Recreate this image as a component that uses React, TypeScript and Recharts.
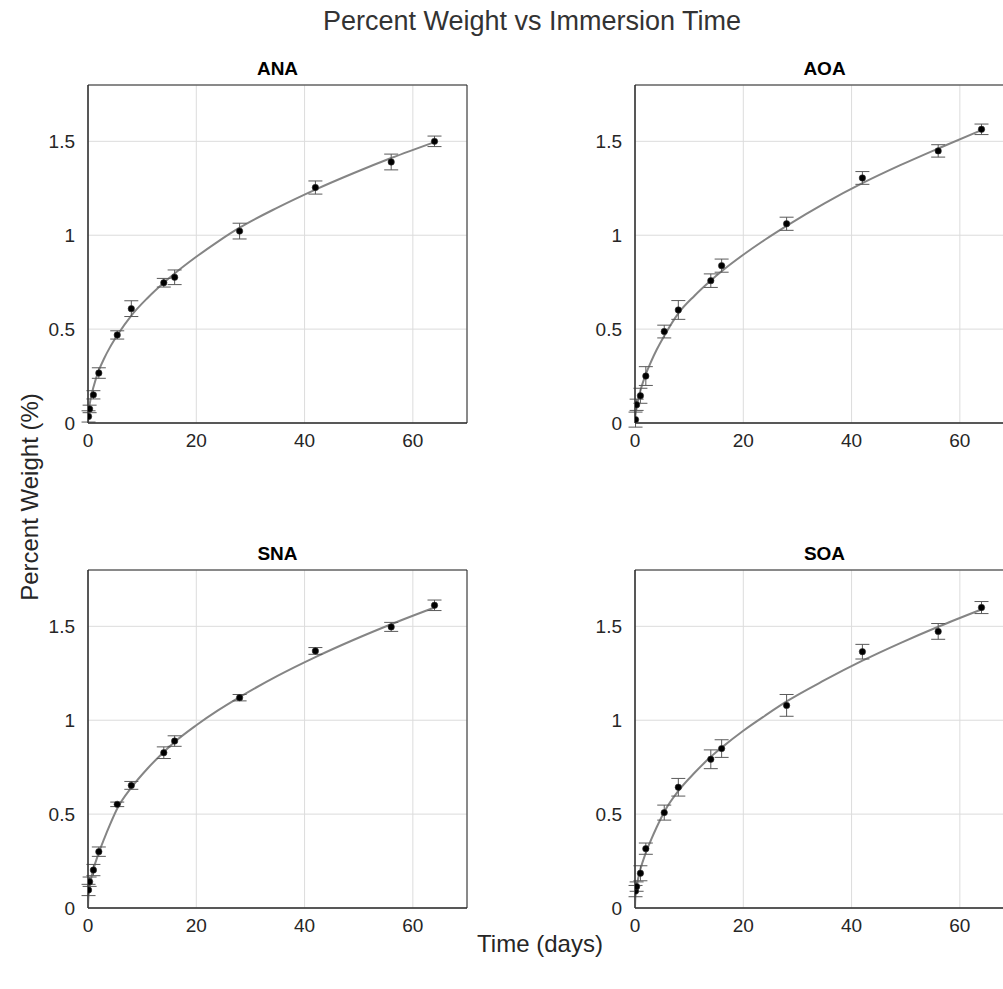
import {
  CartesianGrid,
  ComposedChart,
  ErrorBar,
  Line,
  ReferenceArea,
  Scatter,
  XAxis,
  YAxis,
} from "recharts";

// sampling times (days)
const TIMES = [0.1, 0.3, 1, 2, 5.4, 8, 14, 16, 28, 42, 56, 64];

const ANA_Y = [0.035, 0.075, 0.15, 0.266, 0.469, 0.609, 0.747, 0.776, 1.022, 1.254, 1.39, 1.5];
const ANA_ERR = [0.03, 0.02, 0.022, 0.028, 0.022, 0.042, 0.023, 0.039, 0.042, 0.035, 0.042, 0.028];
const AOA_Y = [0.018, 0.097, 0.145, 0.25, 0.487, 0.602, 0.758, 0.838, 1.061, 1.305, 1.449, 1.564];
const AOA_ERR = [0.04, 0.03, 0.04, 0.05, 0.034, 0.05, 0.036, 0.035, 0.035, 0.034, 0.033, 0.028];
const SNA_Y = [0.096, 0.14, 0.202, 0.3, 0.552, 0.653, 0.827, 0.889, 1.12, 1.369, 1.497, 1.612];
const SNA_ERR = [0.03, 0.025, 0.03, 0.025, 0.012, 0.021, 0.031, 0.028, 0.017, 0.018, 0.024, 0.028];
const SOA_Y = [0.09, 0.114, 0.185, 0.316, 0.508, 0.643, 0.792, 0.849, 1.079, 1.365, 1.473, 1.6];
const SOA_ERR = [0.03, 0.025, 0.04, 0.03, 0.04, 0.047, 0.05, 0.047, 0.058, 0.039, 0.042, 0.032];

// fitted curve
const FIT_T = [0, 0.05, 0.2, 0.5, 1, 2, 3, 4, 5.5, 8, 11, 14, 16, 20, 24, 28, 35, 42, 49, 56, 64];
const ANA_FIT = [0, 0.036, 0.078, 0.13, 0.19, 0.28, 0.345, 0.4, 0.471, 0.572, 0.666, 0.747, 0.796, 0.885, 0.966, 1.04, 1.147, 1.243, 1.33, 1.411, 1.496];
const AOA_FIT = [0, 0.03, 0.066, 0.113, 0.172, 0.26, 0.329, 0.39, 0.469, 0.584, 0.678, 0.759, 0.808, 0.896, 0.976, 1.05, 1.17, 1.277, 1.373, 1.462, 1.56];
const SNA_FIT = [0, 0.045, 0.09, 0.145, 0.206, 0.295, 0.37, 0.44, 0.535, 0.641, 0.743, 0.831, 0.884, 0.973, 1.052, 1.123, 1.236, 1.336, 1.427, 1.511, 1.6];
const SOA_FIT = [0, 0.045, 0.09, 0.145, 0.206, 0.295, 0.365, 0.43, 0.517, 0.623, 0.72, 0.805, 0.854, 0.944, 1.024, 1.1, 1.213, 1.317, 1.411, 1.498, 1.59];

const X_TICKS = [0, 20, 40, 60];
const Y_TICKS = [0, 0.5, 1, 1.5];

const FONT = '"Liberation Sans", Arial, Helvetica, sans-serif';
const TEXT = "#262626";

const PLOT_W = 379;
const PLOT_H = 338;
const Y_AXIS_W = 50;
const X_AXIS_H = 35;
const PAD = 5;

interface PanelProps {
  title: string;
  ys: number[];
  errs: number[];
  fit: number[];
  left: number;
  top: number;
}

const Dot = (props: any) => {
  const { cx, cy } = props;
  if (cx == null || cy == null) return null;
  return <circle cx={cx} cy={cy} r={3.2} fill="#000" stroke="#333" strokeWidth={0.6} />;
};

function Panel({ title, ys, errs, fit, left, top }: PanelProps) {
  const points = TIMES.map((t, i) => ({ t, y: ys[i], err: errs[i] }));
  const curve = FIT_T.map((t, i) => ({ t, y: fit[i] }));
  return (
    <>
      <div
        style={{
          position: "absolute",
          left,
          top: top - 27,
          width: PLOT_W,
          textAlign: "center",
          fontFamily: FONT,
          fontWeight: "bold",
          fontSize: 19,
          color: "#000",
        }}
      >
        {title}
      </div>
      <div
        style={{
          position: "absolute",
          left: left - Y_AXIS_W,
          top: top - PAD,
        }}
      >
        <ComposedChart
          width={Y_AXIS_W + PLOT_W + PAD}
          height={PAD + PLOT_H + X_AXIS_H}
          margin={{ top: PAD, right: PAD, left: 0, bottom: 0 }}
        >
          <CartesianGrid stroke="#dcdcdc" strokeWidth={1} />
          <XAxis
            dataKey="t"
            type="number"
            domain={[0, 70]}
            ticks={X_TICKS}
            height={X_AXIS_H}
            tickLine={false}
            axisLine={{ stroke: "#262626" }}
            tick={{ fill: TEXT, fontSize: 19, fontFamily: FONT }}
            tickMargin={5}
            allowDataOverflow
          />
          <YAxis
            dataKey="y"
            type="number"
            domain={[0, 1.8]}
            ticks={Y_TICKS}
            width={Y_AXIS_W}
            tickLine={false}
            axisLine={{ stroke: "#262626" }}
            tick={{ fill: TEXT, fontSize: 19, fontFamily: FONT }}
            tickMargin={7}
            allowDataOverflow
          />
          <ReferenceArea x1={0} x2={70} y1={0} y2={1.8} fill="none" stroke="#262626" strokeWidth={1} />
          <Line
            data={curve}
            dataKey="y"
            type="monotone"
            dot={false}
            stroke="#858585"
            strokeWidth={2}
            isAnimationActive={false}
          />
          <Scatter data={points} dataKey="y" shape={Dot} isAnimationActive={false}>
            <ErrorBar dataKey="err" direction="y" width={7} stroke="#5a5a5a" strokeWidth={1} />
          </Scatter>
        </ComposedChart>
      </div>
    </>
  );
}

export default function App() {
  return (
    <div
      style={{
        position: "absolute",
        left: 0,
        top: 0,
        width: 1003,
        height: 989,
        overflow: "hidden",
        background: "#fff",
      }}
    >
      <div
        style={{
          position: "absolute",
          left: 0,
          top: 6,
          width: 1064,
          textAlign: "center",
          fontFamily: FONT,
          fontSize: 27,
          color: "#333",
        }}
      >
        Percent Weight vs Immersion Time
      </div>
      <Panel title="ANA" ys={ANA_Y} errs={ANA_ERR} fit={ANA_FIT} left={88} top={85} />
      <Panel title="AOA" ys={AOA_Y} errs={AOA_ERR} fit={AOA_FIT} left={635} top={85} />
      <Panel title="SNA" ys={SNA_Y} errs={SNA_ERR} fit={SNA_FIT} left={88} top={570} />
      <Panel title="SOA" ys={SOA_Y} errs={SOA_ERR} fit={SOA_FIT} left={635} top={570} />
      <div
        style={{
          position: "absolute",
          left: 30,
          top: 497,
          transform: "translate(-50%, -50%) rotate(-90deg)",
          whiteSpace: "nowrap",
          fontFamily: FONT,
          fontSize: 24,
          color: TEXT,
        }}
      >
        Percent Weight (%)
      </div>
      <div
        style={{
          position: "absolute",
          left: 0,
          top: 930,
          width: 1080,
          textAlign: "center",
          fontFamily: FONT,
          fontSize: 24,
          color: TEXT,
        }}
      >
        Time (days)
      </div>
    </div>
  );
}
